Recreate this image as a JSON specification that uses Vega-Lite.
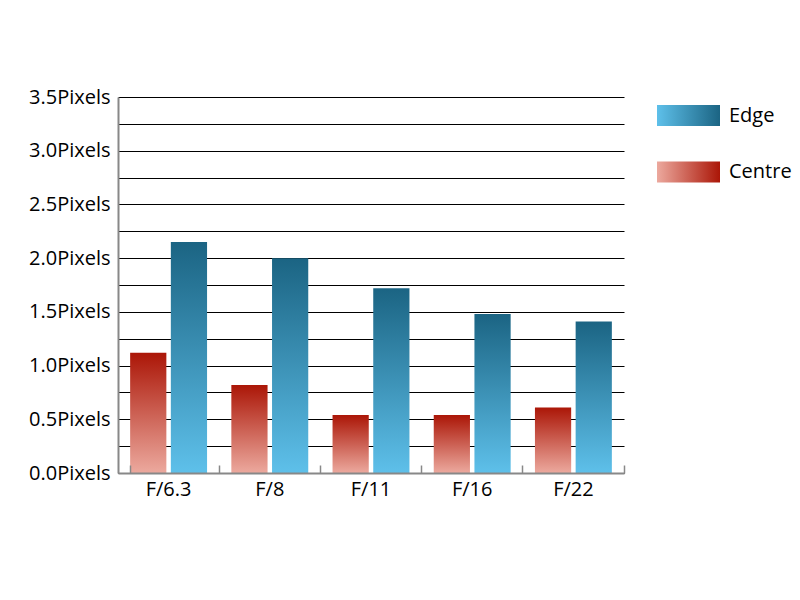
{
  "$schema": "https://vega.github.io/schema/vega-lite/v6.json",
  "width": 506,
  "height": 376,
  "autosize": "none",
  "padding": {"left": 118, "top": 97, "right": 176, "bottom": 127},
  "background": "white",
  "config": {"view": {"stroke": null}, "font": "Open Sans"},
  "data": {
    "values": [
      {"aperture": "F/6.3", "series": "Centre", "value": 1.12},
      {"aperture": "F/6.3", "series": "Edge", "value": 2.15},
      {"aperture": "F/8", "series": "Centre", "value": 0.82},
      {"aperture": "F/8", "series": "Edge", "value": 2.0},
      {"aperture": "F/11", "series": "Centre", "value": 0.54},
      {"aperture": "F/11", "series": "Edge", "value": 1.72},
      {"aperture": "F/16", "series": "Centre", "value": 0.54},
      {"aperture": "F/16", "series": "Edge", "value": 1.48},
      {"aperture": "F/22", "series": "Centre", "value": 0.61},
      {"aperture": "F/22", "series": "Edge", "value": 1.41}
    ]
  },
  "encoding": {
    "x": {
      "field": "aperture",
      "type": "nominal",
      "sort": ["F/6.3", "F/8", "F/11", "F/16", "F/22"],
      "scale": {"paddingInner": 0.24, "paddingOuter": 0.12},
      "axis": {
        "title": null,
        "labelAngle": 0,
        "labelFontSize": 20,
        "labelColor": "#000",
        "ticks": true,
        "bandPosition": 1.158,
        "tickExtra": true,
        "tickSize": -8,
        "tickColor": "#888",
        "tickWidth": 1.5,
        "domainColor": "#888",
        "domainWidth": 2,
        "labelPadding": 14,
        "grid": false,
        "zindex": 1
      }
    },
    "xOffset": {
      "field": "series",
      "sort": ["Centre", "Edge"],
      "scale": {"paddingInner": 0.11}
    },
    "y": {
      "field": "value",
      "type": "quantitative",
      "scale": {"domain": [0, 3.5]},
      "axis": {
        "title": null,
        "values": [0, 0.25, 0.5, 0.75, 1, 1.25, 1.5, 1.75, 2, 2.25, 2.5, 2.75, 3, 3.25, 3.5],
        "labelExpr": "(datum.value * 2) % 1 == 0 ? format(datum.value, '.1f') + 'Pixels' : ''",
        "labelOverlap": false,
        "grid": true,
        "gridColor": "#000",
        "gridWidth": 1,
        "ticks": false,
        "tickSize": 0,
        "domainColor": "#888",
        "domainWidth": 2,
        "labelFontSize": 20,
        "labelColor": "#000",
        "labelPadding": 8
      }
    }
  },
  "layer": [
    {
      "mark": {"type": "bar"},
      "encoding": {
        "color": {
          "condition": {
            "test": "datum.series === 'Edge'",
            "value": {"gradient": "linear", "x1": 0, "y1": 0, "x2": 0, "y2": 1, "stops": [{"offset": 0, "color": "#1b6483"}, {"offset": 1, "color": "#5ec0ea"}]}
          },
          "value": {"gradient": "linear", "x1": 0, "y1": 0, "x2": 0, "y2": 1, "stops": [{"offset": 0, "color": "#ab1607"}, {"offset": 1, "color": "#eca99e"}]}
        }
      }
    },
    {
      "transform": [{"filter": "datum.series === 'Edge'"}],
      "mark": {
        "type": "point",
        "filled": true,
        "opacity": 0,
        "color": {"gradient": "linear", "x1": 0, "y1": 0, "x2": 1, "y2": 0, "stops": [{"offset": 0, "color": "#5ec0ea"}, {"offset": 1, "color": "#1b6483"}]}
      },
      "encoding": {
        "shape": {
          "field": "series",
          "type": "nominal",
          "scale": {"domain": ["Edge"], "range": ["M-1,-0.333H1V0.333H-1Z"]},
          "legend": {
            "title": null,
            "orient": "none",
            "legendX": 539,
            "legendY": -13,
            "padding": 0,
            "symbolSize": 3969,
            "symbolStrokeWidth": 0,
            "symbolOpacity": 1,
            "labelFontSize": 20,
            "labelColor": "#000",
            "labelOffset": 9
          }
        }
      }
    },
    {
      "transform": [{"filter": "datum.series === 'Centre'"}],
      "mark": {
        "type": "point",
        "filled": true,
        "opacity": 0,
        "color": {"gradient": "linear", "x1": 0, "y1": 0, "x2": 1, "y2": 0, "stops": [{"offset": 0, "color": "#eca99e"}, {"offset": 1, "color": "#ab1607"}]}
      },
      "encoding": {
        "shape": {
          "field": "series",
          "type": "nominal",
          "scale": {"domain": ["Centre"], "range": ["M-1,-0.333H1V0.333H-1Z"]},
          "legend": {
            "title": null,
            "orient": "none",
            "legendX": 539,
            "legendY": 43.5,
            "padding": 0,
            "symbolSize": 3969,
            "symbolStrokeWidth": 0,
            "symbolOpacity": 1,
            "labelFontSize": 20,
            "labelColor": "#000",
            "labelOffset": 9
          }
        }
      }
    }
  ],
  "resolve": {"scale": {"shape": "independent"}, "legend": {"shape": "independent"}}
}
